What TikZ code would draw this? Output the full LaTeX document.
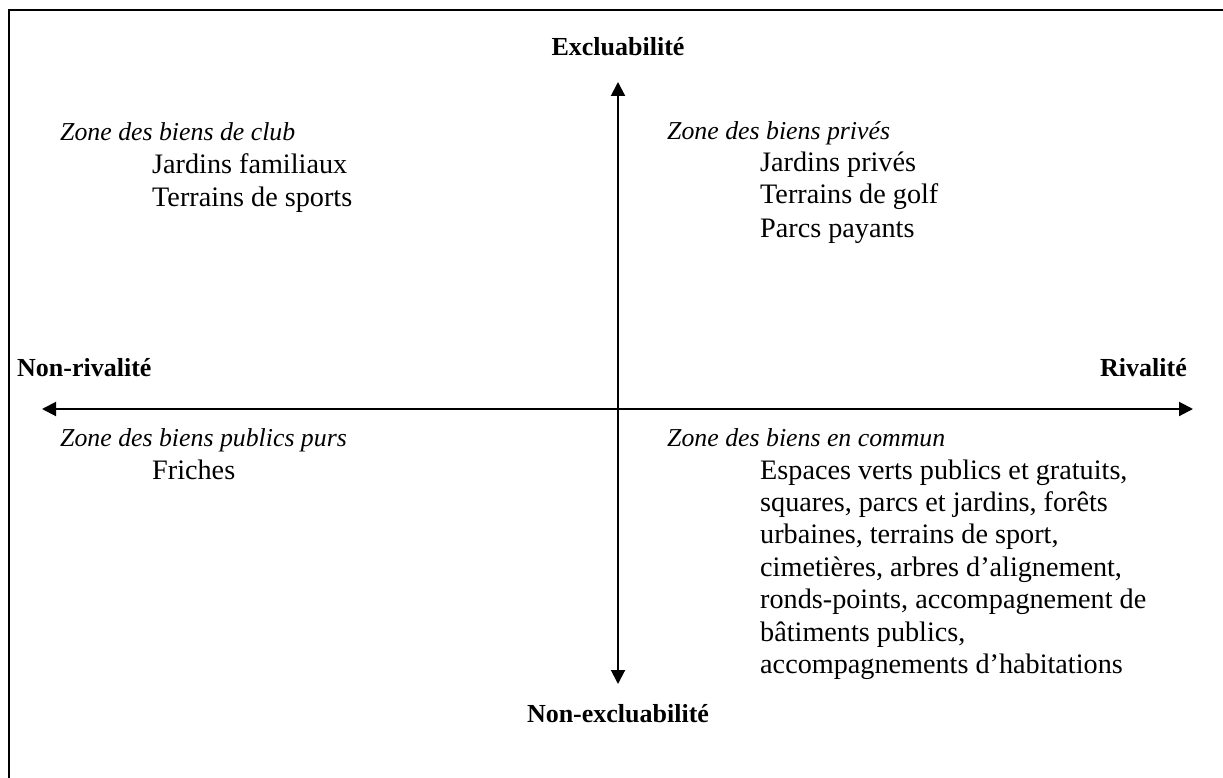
\documentclass[tikz,border=0pt]{standalone}
\usepackage{fontspec}
\setmainfont{Liberation Serif}
\usetikzlibrary{arrows.meta}
\begin{document}
\begin{tikzpicture}[x=1pt,y=-1pt,
  txt/.style={anchor=base west,inner sep=0pt,font=\fontsize{28.2}{32}\selectfont},
  zone/.style={anchor=base west,inner sep=0pt,font=\fontsize{25.8}{30}\selectfont\itshape},
  axlab/.style={inner sep=0pt,font=\fontsize{26}{30}\selectfont\bfseries},
  axisline/.style={line width=2pt,{Triangle[length=14pt,width=14pt]}-{Triangle[length=14pt,width=14pt]}},
  frameline/.style={line width=2.2pt}]
\useasboundingbox (0,0) rectangle (1223,778);
% frame (top and left edges)
\coordinate (fbl) at (9,779);
\coordinate (ftl) at (9,10);
\coordinate (ftr) at (1224,10);
\draw[frameline] (fbl) -- (ftl) -- (ftr);
% axes
\coordinate (top) at (618,82);
\coordinate (bot) at (618,684);
\coordinate (lft) at (42,409);
\coordinate (rgt) at (1193,409);
\draw[axisline] (bot) -- (top);
\draw[axisline] (lft) -- (rgt);
% axis labels
\node[axlab,anchor=base] (excl) at (618,56) {Excluabilité};
\node[axlab,anchor=base] (nexcl) at (618,722) {Non-excluabilité};
\node[axlab,anchor=base west] (nriv) at (17,376) {Non-rivalité};
\node[axlab,anchor=base east] (riv) at (1187,376) {Rivalité};
% club
\node[zone] (zclub) at (60,141) {Zone des biens de club};
\node[txt] (c1) at (152,174) {Jardins familiaux};
\node[txt] (c2) at (152,207) {Terrains de sports};
% prives
\node[zone] (zpriv) at (667,140) {Zone des biens privés};
\node[txt] (p1) at (760,172) {Jardins privés};
\node[txt] (p2) at (760,204) {Terrains de golf};
\node[txt] (p3) at (760,237) {Parcs payants};
% publics purs
\node[zone] (zpub) at (60,446) {Zone des biens publics purs};
\node[txt] (f1) at (152,479) {Friches};
% commun
\node[zone] (zcom) at (667,446) {Zone des biens en commun};
\node[txt] (m1) at (760,479) {Espaces verts publics et gratuits,};
\node[txt] (m2) at (760,511.4) {squares, parcs et jardins, forêts};
\node[txt] (m3) at (760,543.8) {urbaines, terrains de sport,};
\node[txt] (m4) at (760,576.2) {cimetières, arbres d’alignement,};
\node[txt] (m5) at (760,608.6) {ronds-points, accompagnement de};
\node[txt] (m6) at (760,641) {bâtiments publics,};
\node[txt] (m7) at (760,673.4) {accompagnements d’habitations};
\end{tikzpicture}
\end{document}
